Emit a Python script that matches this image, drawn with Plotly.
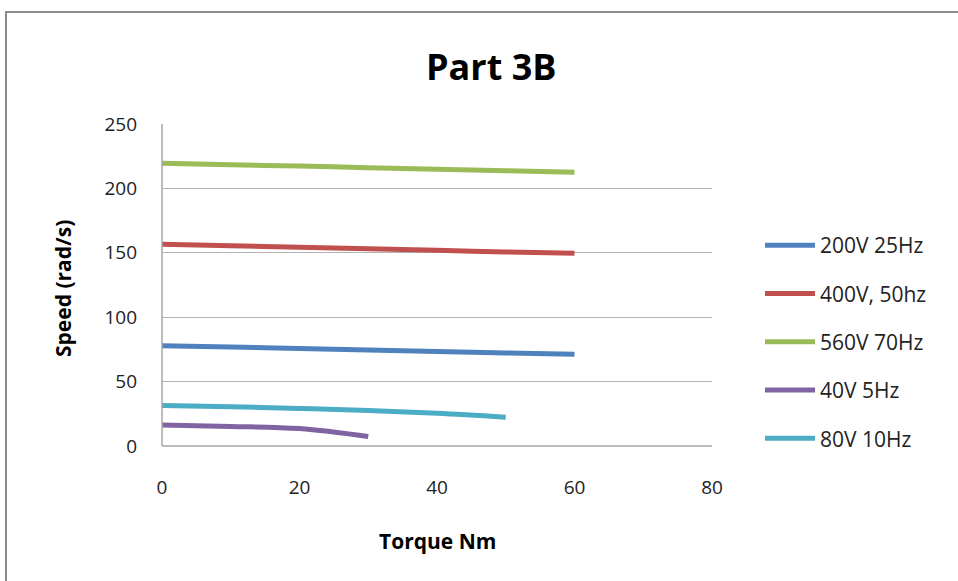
import plotly.graph_objects as go

torque_60 = [0, 10, 20, 30, 40, 50, 60]
speed_200v = [77.9, 76.8, 75.7, 74.6, 73.4, 72.3, 71.2]
speed_400v = [156.6, 155.5, 154.3, 153.1, 151.9, 150.7, 149.6]
speed_560v = [219.5, 218.4, 217.3, 216.1, 214.9, 213.7, 212.5]
torque_40v = [0, 10, 20, 30]
speed_40v = [16.3, 15.2, 13.5, 7.3]
torque_80v = [0, 10, 20, 30, 40, 50]
speed_80v = [31.4, 30.4, 29.2, 27.6, 25.4, 22.4]

series = [
    ("200V 25Hz", torque_60, speed_200v, "#4F81BD"),
    ("400V, 50hz", torque_60, speed_400v, "#C0504D"),
    ("560V 70Hz", torque_60, speed_560v, "#9BBB59"),
    ("40V 5Hz", torque_40v, speed_40v, "#8064A2"),
    ("80V 10Hz", torque_80v, speed_80v, "#4BACC6"),
]

FONT = "Open Sans, sans-serif"

fig = go.Figure()
for i, (name, x, y, c) in enumerate(series):
    fig.add_trace(go.Scatter(x=x, y=y, name=name, mode="lines",
                             line=dict(color=c, width=5, shape="spline"),
                             legendgroup=str(i)))

L, R, T, B = 162, 712, 124, 446
W, H = 958, 581
pw, ph = R - L, B - T

def px(x):
    return (x - L) / pw

def py(y):
    return (B - y) / ph

fig.update_layout(
    width=W, height=H,
    margin=dict(l=L, r=W - R, t=T, b=H - B),
    paper_bgcolor="white", plot_bgcolor="white",
    font=dict(family=FONT, size=19, color="#222"),
    showlegend=True,
    legend=dict(x=px(760), y=py(225), xanchor="left", yanchor="top",
                font=dict(size=21, family=FONT, color="#222"),
                itemwidth=50,
                tracegroupgap=18, bgcolor="rgba(0,0,0,0)"),
    xaxis=dict(range=[0, 80], dtick=20, showgrid=False, zeroline=False,
               showline=False, ticks="", ticklabelstandoff=28,
               tickfont=dict(size=19)),
    yaxis=dict(range=[0, 250], dtick=50, showgrid=True, gridcolor="#B3B3B3",
               gridwidth=1.2, zeroline=False, showline=False, ticks="",
               ticklabelstandoff=24, tickfont=dict(size=19)),
    shapes=[
        dict(type="line", xref="paper", yref="paper", x0=0, x1=0, y0=0, y1=1,
             line=dict(color="#A6A6A6", width=1.5)),
        dict(type="line", xref="paper", yref="paper", x0=0, x1=1, y0=0, y1=0,
             line=dict(color="#A6A6A6", width=1.5)),
        dict(type="rect", xref="paper", yref="paper",
             x0=px(6), x1=px(975), y0=py(12), y1=py(600),
             line=dict(color="#8C8C8C", width=2), layer="below"),
    ],
    annotations=[
        dict(text="<b>Part 3B</b>", xref="paper", yref="paper",
             x=px(491), y=py(66), showarrow=False, yanchor="middle",
             font=dict(size=36, family=FONT, color="black")),
        dict(text="<b>Torque Nm</b>", xref="paper", yref="paper",
             x=px(437), y=py(541), showarrow=False, yanchor="middle",
             font=dict(size=21, family=FONT, color="black")),
        dict(text="<b>Speed (rad/s)</b>", xref="paper", yref="paper",
             x=px(63), y=py(289), showarrow=False, textangle=-90,
             xanchor="center", yanchor="middle",
             font=dict(size=21, family=FONT, color="black")),
    ],
)

fig.write_html("out.html")
